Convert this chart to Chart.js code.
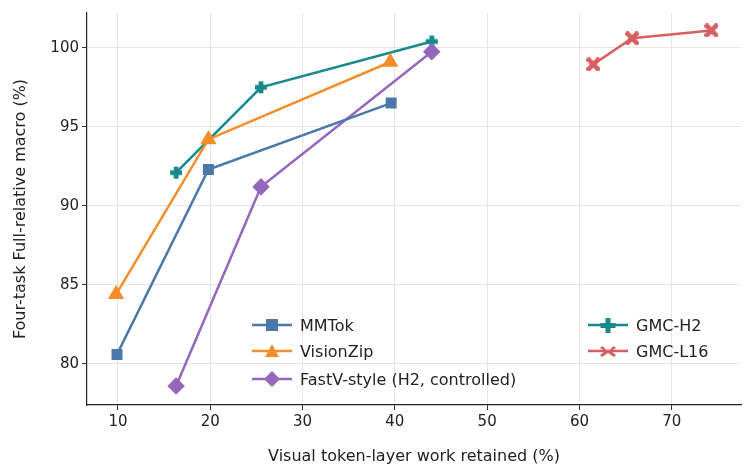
<!DOCTYPE html>
<html><head><meta charset="utf-8">
<script src="https://cdn.jsdelivr.net/npm/chart.js@4"></script>
<style>
body{margin:0;background:#fff;font-family:"DejaVu Sans",sans-serif;}
#wrap{position:relative;width:754px;height:475px;}
.leg{position:absolute;font-size:16px;color:#222;display:flex;align-items:center;height:20px;white-space:nowrap}
.leg svg{margin-right:8px}
</style></head><body>
<div id="wrap"><canvas id="c" width="754" height="475"></canvas></div>
<script>
const mmtokX=[9.9,19.8,39.6], mmtokY=[80.6,92.3,96.5];
const vzX=[9.8,19.8,39.5], vzY=[84.4,94.2,99.1];
const fvX=[16.3,25.5,44.0], fvY=[78.6,91.2,99.75];
const h2X=[16.3,25.5,44.0], h2Y=[92.1,97.5,100.4];
const l16X=[61.5,65.7,74.3], l16Y=[98.95,100.6,101.1];
const xTicks=[10,20,30,40,50,60,70], yTicks=[80,85,90,95,100];
const names=["MMTok","VisionZip","FastV-style (H2, controlled)","GMC-H2","GMC-L16"];
const colors=["#4c78a8","#f28e2b","#9467bd","#17898a","#d65f5f"];

function shape(kind,color,s){
  const c=document.createElement('canvas');c.width=c.height=s;const g=c.getContext('2d');
  g.fillStyle=color;const h=s/2,w=s*0.17;
  if(kind==='plus'){g.fillRect(h-w,1,2*w,s-2);g.fillRect(1,h-w,s-2,2*w);}
  else{g.translate(h,h);g.rotate(Math.PI/4);const L=s*0.62;g.fillRect(-w,-L,2*w,2*L);g.fillRect(-L,-w,2*L,2*w);}
  return c;
}
const pts=(xs,ys)=>xs.map((x,i)=>({x,y:ys[i]}));
const sets=[[mmtokX,mmtokY,'rect',6],[vzX,vzY,'triangle',7],[fvX,fvY,'rectRot',7],[h2X,h2Y,shape('plus',colors[3],14),0],[l16X,l16Y,shape('x',colors[4],14),0]];
new Chart(document.getElementById('c'),{type:'line',
data:{datasets:sets.map((s,i)=>({label:names[i],data:pts(s[0],s[1]),borderColor:colors[i],backgroundColor:colors[i],borderWidth:2.5,pointStyle:s[2],pointRadius:s[3]||7,pointHoverRadius:s[3]||7,tension:0}))},
options:{responsive:false,animation:false,layout:{padding:{top:13,right:13,left:7,bottom:9}},
plugins:{legend:{display:false},tooltip:{enabled:false}},
scales:{
x:{type:'linear',min:6.65,max:77.5,afterBuildTicks:a=>{a.ticks=xTicks.map(v=>({value:v}))},
 afterFit:a=>{a.height=61},
 grid:{color:'#e6e6e6',tickColor:'#333',tickLength:5},border:{color:'#222',width:1.2},
 ticks:{color:'#222',font:{size:15,family:'DejaVu Sans'}},
 title:{display:true,text:'Visual token-layer work retained (%)',color:'#222',padding:{top:2,bottom:0},font:{size:16,family:'DejaVu Sans'}}},
y:{min:77.4,max:102.2,afterBuildTicks:a=>{a.ticks=yTicks.map(v=>({value:v}))},
 afterFit:a=>{a.width=80},
 grid:{color:'#e6e6e6',tickColor:'#333',tickLength:5},border:{color:'#222',width:1.2},
 ticks:{color:'#222',font:{size:15,family:'DejaVu Sans'}},
 title:{display:true,text:'Four-task Full-relative macro (%)',color:'#222',font:{size:16,family:'DejaVu Sans'}}}
}}});
const lp=[[252,315],[252,341],[252,369],[588,315],[588,341]];
const sym=['<rect x="14" y="3" width="12" height="12"/>','<polygon points="20,2 27,15 13,15"/>','<polygon points="20,1 28,9 20,17 12,9"/>',
'<path d="M17.5 2h5v5h5v5h-5v5h-5v-5h-5v-5h5z"/>','<path d="M14 4l6 5 6-5 2 2-5 3 5 4-2 2-6-4-6 4-2-2 5-4-5-3z"/>'];
names.forEach((n,i)=>{const d=document.createElement('div');d.className='leg';d.style.left=lp[i][0]+'px';d.style.top=lp[i][1]+'px';
d.innerHTML=`<svg width="40" height="18" fill="${colors[i]}"><line x1="0" y1="9" x2="40" y2="9" stroke="${colors[i]}" stroke-width="2.5"/>${sym[i]}</svg>${n}`;
document.getElementById('wrap').appendChild(d);});
</script></body></html>
